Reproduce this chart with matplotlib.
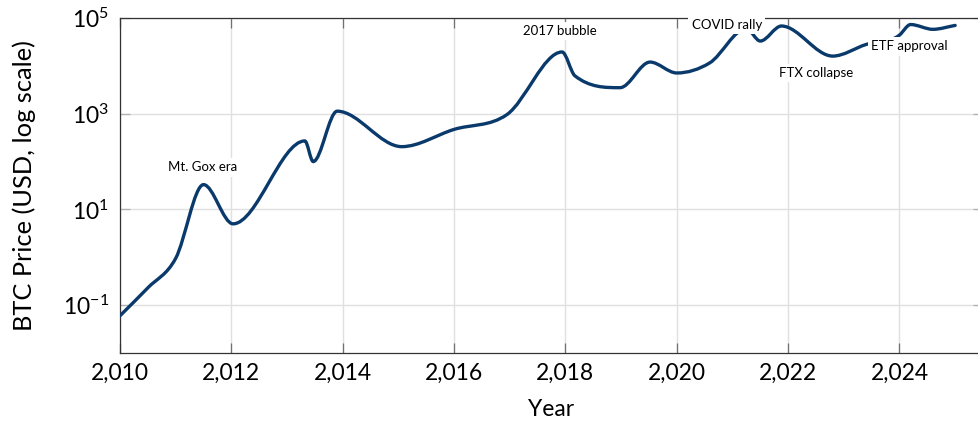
import numpy as np
import matplotlib
matplotlib.use("Agg")
import matplotlib.pyplot as plt
from matplotlib.path import Path
from matplotlib.patches import PathPatch
from matplotlib.ticker import FixedLocator, FuncFormatter, NullLocator

plt.rcParams['font.family'] = ['Lato', 'DejaVu Sans']
plt.rcParams['mathtext.fontset'] = 'custom'
plt.rcParams['mathtext.rm'] = 'Lato'
plt.rcParams['mathtext.it'] = 'Lato:italic'
plt.rcParams['mathtext.bf'] = 'Lato:bold'

# BTC price path (year, USD), key turning points
years = [2010.0, 2010.5, 2011.0, 2011.5, 2012.03, 2013.32, 2013.47, 2013.9, 2015.06,
         2016.0, 2016.95, 2017.94, 2018.17, 2018.98, 2019.52, 2020.0, 2020.59,
         2021.25, 2021.5, 2021.88, 2022.8, 2023.4, 2024.0, 2024.2, 2024.6, 2025.0]
prices = [0.06, 0.23, 0.95, 33, 5, 270, 100, 1130, 205,
          470, 960, 19500, 6200, 3500, 12000, 7100, 11500,
          60000, 33000, 68000, 16000, 28000, 44000, 73000, 58000, 70000]

events = ["Mt. Gox era", "2017 bubble", "COVID rally", "FTX collapse", "ETF approval"]
event_x = [2011.49, 2017.9, 2020.9, 2022.5, 2024.18]
event_y = [76, 54000, 71000, 7100, 25500]

xticks = [2010, 2012, 2014, 2016, 2018, 2020, 2022, 2024]
yticks = [1e-1, 1e1, 1e3, 1e5]

line_color = '#0a3a6b'


def smooth_path(xs, ys):
    # piecewise cubic Bezier through the points in (x, log10 y) space,
    # flat tangents at turning points so peaks stay on the data
    x = np.asarray(xs, float)
    y = np.log10(ys)
    h = np.diff(x)
    d = np.diff(y) / h
    n = len(x)
    m = np.zeros(n)
    m[0], m[-1] = d[0], d[-1]
    for i in range(1, n - 1):
        if d[i - 1] * d[i] <= 0:
            m[i] = 0.0
        else:
            m[i] = (h[i] * d[i - 1] + h[i - 1] * d[i]) / (h[i - 1] + h[i])
            lim = 3 * min(abs(d[i - 1]), abs(d[i]))
            m[i] = np.sign(m[i]) * min(abs(m[i]), lim)
    verts = [(x[0], y[0])]
    codes = [Path.MOVETO]
    for i in range(n - 1):
        verts += [(x[i] + h[i] / 3, y[i] + m[i] * h[i] / 3),
                  (x[i + 1] - h[i] / 3, y[i + 1] - m[i + 1] * h[i] / 3),
                  (x[i + 1], y[i + 1])]
        codes += [Path.CURVE4] * 3
    verts = np.array(verts)
    verts[:, 1] = 10 ** verts[:, 1]
    return Path(verts, codes)


fig = plt.figure(figsize=(9.79, 4.24), dpi=100)
ax = fig.add_axes([120 / 979, 71 / 424, 863 / 979, 335 / 424])
ax.set_yscale('log')
ax.set_xlim(2010, 2025.5)
ax.set_ylim(1e-2, 1e5)

ax.add_patch(PathPatch(smooth_path(years, prices), fill=False,
                       edgecolor=line_color, lw=2.4, zorder=3,
                       capstyle='round', joinstyle='round'))

ax.xaxis.set_major_locator(FixedLocator(xticks))
ax.xaxis.set_major_formatter(FuncFormatter(lambda v, pos: f"{int(v):,}"))
ax.yaxis.set_major_locator(FixedLocator(yticks))
ax.yaxis.set_minor_locator(NullLocator())
ax.yaxis.set_major_formatter(FuncFormatter(lambda v, pos: r"$10^{%d}$" % round(np.log10(v))))

ax.grid(True, color='#e0e0e0', lw=1.0, zorder=0)
ax.set_axisbelow(True)
ax.tick_params(axis='x', direction='in', length=7.5, width=0.9, color='#707070',
               top=True, labelsize=16.5, pad=7)
ax.tick_params(axis='y', direction='in', length=7.5, width=0.9, color='#b0b0b0',
               right=True, labelsize=16.5, pad=8)
for side in ['left', 'bottom', 'top', 'right']:
    ax.spines[side].set_color('#333333')
    ax.spines[side].set_linewidth(0.9)

ax.set_xlabel("Year", fontsize=16.5)
ax.set_ylabel("BTC Price (USD, log scale)", fontsize=18.3)
ax.xaxis.set_label_coords(0.5, -(399 - 353) / 335)
ax.yaxis.set_label_coords(-(120 - 36) / 863, 0.5)

for name, ex, ey in zip(events, event_x, event_y):
    ax.text(ex, ey, name, fontsize=9.5, ha='center', va='center', zorder=5,
            clip_on=False,
            bbox=dict(boxstyle='square,pad=0.25', fc='white', ec='none'))

fig.savefig("out.png", dpi=100)
